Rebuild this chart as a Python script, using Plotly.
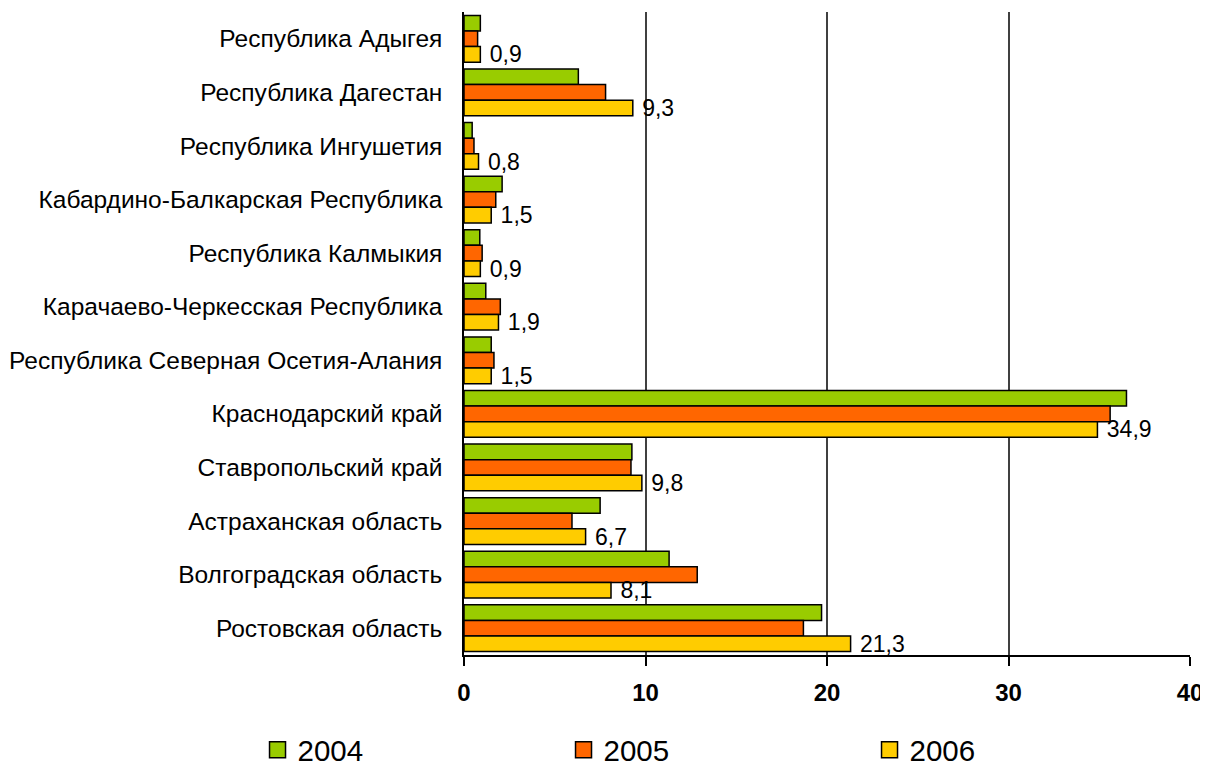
import plotly.graph_objects as go

regions = [
    "Республика Адыгея",
    "Республика Дагестан",
    "Республика Ингушетия",
    "Кабардино-Балкарская Республика",
    "Республика Калмыкия",
    "Карачаево-Черкесская Республика",
    "Республика Северная Осетия-Алания",
    "Краснодарский край",
    "Ставропольский край",
    "Астраханская область",
    "Волгоградская область",
    "Ростовская область",
]
v2004 = [0.9, 6.3, 0.45, 2.1, 0.87, 1.2, 1.5, 36.5, 9.25, 7.5, 11.3, 19.7]
v2005 = [0.75, 7.8, 0.55, 1.75, 1.0, 2.0, 1.65, 35.6, 9.2, 5.95, 12.85, 18.7]
v2006 = [0.9, 9.3, 0.8, 1.5, 0.9, 1.9, 1.5, 34.9, 9.8, 6.7, 8.1, 21.3]
years = ["2004", "2005", "2006"]
colors = ["#99CC00", "#FF6600", "#FFCC00"]
tick_vals = [0, 10, 20, 30, 40]

FONT = "Liberation Sans, Arial"

fig = go.Figure()
for name, vals, col in zip(years, [v2004, v2005, v2006], colors):
    show_text = name == "2006"
    fig.add_trace(go.Bar(
        y=regions, x=vals, name=name, orientation="h", showlegend=False,
        marker=dict(color=col, line=dict(color="black", width=1.5)),
        texttemplate=" %{x:.1f}" if show_text else None,
        textposition="outside" if show_text else "none",
        constraintext="none",
        textfont=dict(size=23, color="black", family=FONT),
        cliponaxis=False,
    ))
# legend-only entries with larger square symbols
for name, col in zip(years, colors):
    fig.add_trace(go.Scatter(
        x=[None], y=[None], mode="markers", name=name,
        marker=dict(symbol="square", size=16, color=col,
                    line=dict(color="black", width=1.5)),
    ))

fig.update_layout(
    width=1208, height=770,
    margin=dict(l=456, r=26, t=4, b=123, autoexpand=False),
    barmode="group", bargap=0.128, bargroupgap=0,
    separators=", ",
    plot_bgcolor="white", paper_bgcolor="white",
    font=dict(family=FONT, size=24, color="black"),
    legend=dict(
        orientation="h", x=-0.2844, y=-0.148, xanchor="left", yanchor="middle",
        font=dict(size=29.5), entrywidth=261, entrywidthmode="pixels",
        itemwidth=30, tracegroupgap=0,
    ),
    xaxis=dict(
        range=[0, 40], tickvals=tick_vals, showgrid=True,
        gridcolor="#404040", gridwidth=1.5,
        showline=True, linecolor="black", linewidth=1.5,
        ticks="outside", ticklen=9, tickwidth=1.5, tickcolor="black",
        tickfont=dict(size=24, weight="bold"),
        ticklabelstandoff=6,
        zeroline=False, automargin=False,
    ),
    yaxis=dict(
        autorange="reversed", showline=True, linecolor="black", linewidth=1.5,
        ticks="", ticklabelstandoff=15, automargin=False,
        tickfont=dict(size=24.5),
    ),
)
fig.write_html("out.html")
